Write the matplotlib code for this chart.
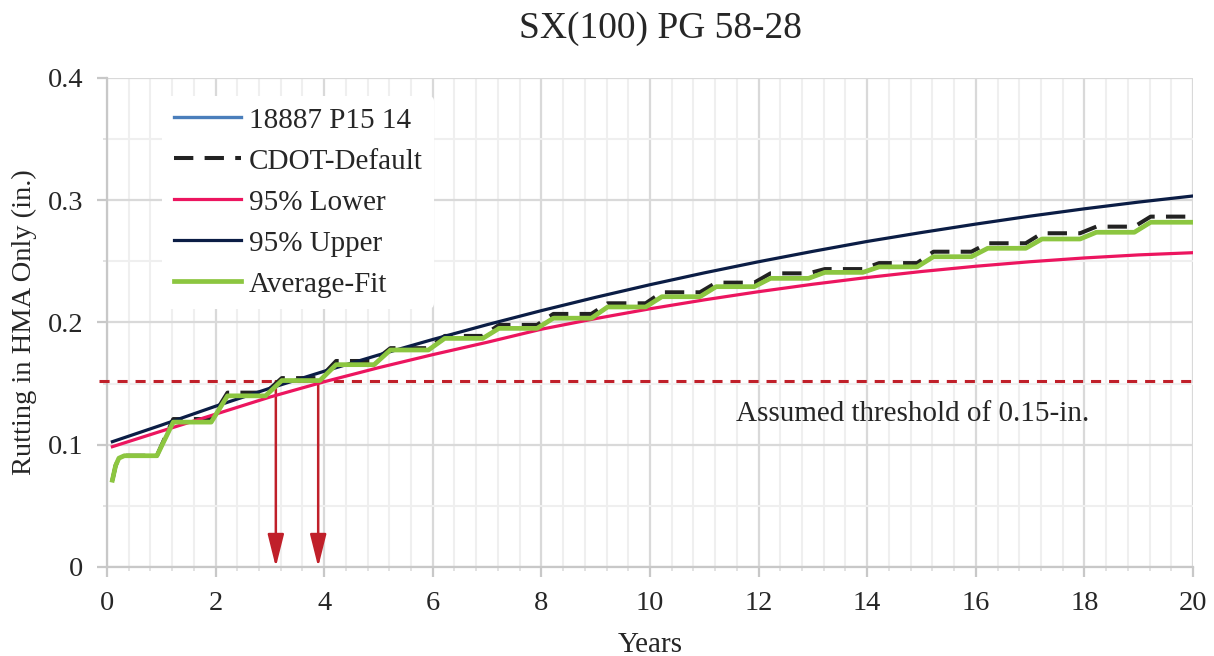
import matplotlib
matplotlib.use("Agg")
import matplotlib.pyplot as plt
from matplotlib.ticker import MultipleLocator, FormatStrFormatter

plt.rcParams["font.family"] = ["Liberation Serif", "DejaVu Serif"]

# ---- data ----
years = [0.1, 1, 2, 3, 4, 5, 6, 7, 8, 9, 10, 11, 12, 13, 14, 15, 16, 17, 18, 19, 20]
upper_95 = [0.1025, 0.1160, 0.1315, 0.1462, 0.1601, 0.1734, 0.1861, 0.1982, 0.2097,
            0.2206, 0.2309, 0.2406, 0.2497, 0.2582, 0.2663, 0.2736, 0.2805, 0.2870,
            0.2930, 0.2985, 0.3035]
lower_95 = [0.0984, 0.1111, 0.1250, 0.1390, 0.1515, 0.1630, 0.1737, 0.1838, 0.1945,
            0.2032, 0.2112, 0.2185, 0.2252, 0.2313, 0.2368, 0.2417, 0.2460, 0.2497,
            0.2528, 0.2553, 0.2571]

# yearly step levels (level reached just after each whole year)
step_years = list(range(20))
avg_fit_levels = [0.0910, 0.1185, 0.1400, 0.1525, 0.1655, 0.1775, 0.1870, 0.1952,
                  0.2035, 0.2127, 0.2211, 0.2293, 0.2361, 0.2410, 0.2455, 0.2538,
                  0.2607, 0.2683, 0.2738, 0.2820]
cdot_levels = [0.0910, 0.1210, 0.1426, 0.1545, 0.1685, 0.1790, 0.1890, 0.1980,
               0.2070, 0.2157, 0.2247, 0.2326, 0.2402, 0.2437, 0.2486, 0.2579,
               0.2648, 0.2730, 0.2784, 0.2866]
start_value = 0.071

threshold = 0.152
arrow_years = [3.11, 3.89]


def step_path(levels):
    xs = [0.1, 0.16, 0.22, 0.32]
    ys = [start_value, 0.083, 0.089, levels[0]]
    for k in step_years[1:]:
        xs += [k - 0.08, k + 0.22]
        ys += [levels[k - 1], levels[k]]
    xs.append(20)
    ys.append(levels[-1])
    return xs, ys


fig = plt.figure(figsize=(12.14, 6.56), dpi=100)
ax = fig.add_axes([0.0881, 0.1357, 0.8946, 0.7454])

ax.set_xlim(0, 20)
ax.set_ylim(0, 0.4)
ax.xaxis.set_major_locator(MultipleLocator(2))
ax.xaxis.set_minor_locator(MultipleLocator(0.4))
ax.yaxis.set_major_locator(MultipleLocator(0.1))
ax.yaxis.set_minor_locator(MultipleLocator(0.05))
ax.yaxis.set_major_formatter(FormatStrFormatter("%g"))
ax.xaxis.set_major_formatter(FormatStrFormatter("%g"))

ax.grid(which="major", color="#D9D9D9", lw=1.6, zorder=0)
ax.grid(which="minor", color="#EFEFEF", lw=1.5, zorder=0)
ax.set_axisbelow(True)
for s in ["top", "right"]:
    ax.spines[s].set_visible(False)
for s in ["left", "bottom"]:
    ax.spines[s].set_color("#C8C8C8")
    ax.spines[s].set_linewidth(1.6)

ax.tick_params(which="major", length=7, width=1.6, color="#C8C8C8",
               labelsize=20.5, labelcolor="#262626", pad=10)
ax.tick_params(which="minor", length=3, width=1.2, color="#DDDDDD")

# threshold line and arrows
ax.plot([-0.15, 20], [threshold, threshold], color="#C0202A", lw=2.2,
        dashes=(3.3, 2.6), clip_on=False, zorder=3)
ax.plot(arrow_years, [threshold, threshold], color="#C0202A", lw=1.8, zorder=3)
for yr in arrow_years:
    ax.annotate("", xy=(yr, 0.0), xytext=(yr, threshold),
                arrowprops=dict(arrowstyle="-|>,head_length=2.0,head_width=0.5",
                                color="#C0202A", lw=1.8, shrinkA=0, shrinkB=0),
                zorder=4)

fit_x, fit_y = step_path(avg_fit_levels)
cdot_x, cdot_y = step_path(cdot_levels)

ax.plot(fit_x, fit_y, color="#4A7EBB", lw=2.4, zorder=4, label="18887 P15 14")
ax.plot(cdot_x, cdot_y, color="#222222", lw=2.9, dashes=(4.8, 2.8), zorder=5,
        label="CDOT-Default", solid_joinstyle="round", dash_joinstyle="round")
ax.plot(years, lower_95, color="#EC155F", lw=2.3, zorder=6, label="95% Lower")
ax.plot(years, upper_95, color="#0B1D45", lw=2.3, zorder=6, label="95% Upper")
ax.plot(fit_x, fit_y, color="#8CC640", lw=3.4, zorder=7, label="Average-Fit",
        solid_joinstyle="round")

ax.text(14.83, 0.1255, "Assumed threshold of 0.15-in.", fontsize=21,
        color="#262626", ha="center", va="center", zorder=8)

leg = ax.legend(loc="upper left", bbox_to_anchor=(0.0377, 0.994), fontsize=21,
                frameon=True, facecolor="white", edgecolor="none", framealpha=1,
                handlelength=2.3, labelspacing=0.5, borderpad=0.4,
                handletextpad=0.25)
for t in leg.get_texts():
    t.set_color("#262626")
leg.set_zorder(10)

ax.set_xlabel("Years", fontsize=21, color="#262626", labelpad=12)
ax.set_ylabel("Rutting in HMA Only (in.)", fontsize=20.5, color="#262626", labelpad=8)
fig.text(0.5437, 0.957, "SX(100) PG 58-28", fontsize=27, color="#262626",
         ha="center", va="center")

fig.savefig("out.png", dpi=100)
